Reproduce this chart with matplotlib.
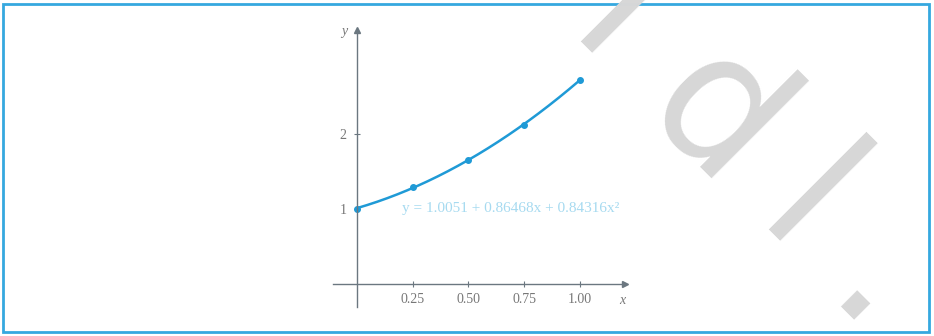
import numpy as np
import matplotlib
matplotlib.use('Agg')
import matplotlib.pyplot as plt
from matplotlib.patches import Rectangle

# data points and least squares fit coefficients (constant, x, x^2)
xs = [0.0, 0.25, 0.50, 0.75, 1.00]
ys = [1.0000, 1.2840, 1.6487, 2.1170, 2.7183]
coef = [1.0051, 0.86468, 0.84316]
xticks = [0.25, 0.50, 0.75, 1.00]
xticklabels = ['0.25', '0.50', '0.75', '1.00']
yticks = [1, 2]
yticklabels = ['1', '2']
equation = 'y = 1.0051 + 0.86468x + 0.84316x²'

blue = '#1f9ad6'
axc = '#6b7780'
txtc = '#777777'

plt.rcParams['font.family'] = ['Liberation Serif', 'DejaVu Serif']

fig = plt.figure(figsize=(9.34, 3.36), dpi=100)
ax = fig.add_axes([333/934, 1 - 307/336, 292/934, 277/336])
ax.set_xlim(-0.1076, 1.2018)
ax.set_ylim(-0.313, 3.38)

ax.spines['top'].set_visible(False)
ax.spines['right'].set_visible(False)
ax.spines['left'].set_position(('data', 0))
ax.spines['bottom'].set_position(('data', 0))
for s in ['left', 'bottom']:
    ax.spines[s].set_color(axc)
    ax.spines[s].set_linewidth(1.0)
ax.plot(1, 0, '>', color=axc, ms=5, transform=ax.get_yaxis_transform(), clip_on=False)
ax.plot(0, 1, '^', color=axc, ms=5, transform=ax.get_xaxis_transform(), clip_on=False)

ax.set_xticks(xticks)
ax.set_xticklabels(xticklabels)
ax.set_yticks(yticks)
ax.set_yticklabels(yticklabels)
ax.tick_params(direction='inout', length=5, width=0.8, color=axc,
               labelcolor=txtc, labelsize=10)
ax.tick_params(axis='x', pad=4)
ax.tick_params(axis='y', pad=5)

# fitted polynomial curve
xc = np.linspace(0, 1, 200)
yc = coef[0] + coef[1]*xc + coef[2]*xc**2
ax.plot(xc, yc, color=blue, lw=1.8, solid_capstyle='round')
ax.plot(xs, ys, 'o', color=blue, ms=4, clip_on=False)

ax.text(0.2, 1.0, equation, color='#a6daf0', fontsize=11, va='center', ha='left')
fig.text(344/934, 1 - 32/336, 'y', color=txtc, fontsize=10, style='italic',
         ha='center', va='center')
ax.text(1.19, -0.22, 'x', color=txtc, fontsize=10, style='italic',
        ha='center', va='center')

# frame
fig.patches.append(Rectangle((3/934, 4/336), 926/934, 328/336, transform=fig.transFigure,
                             fill=False, edgecolor='#35a8df', lw=2))

# watermark, one glyph at a time (baseline centre of each glyph)
wm = dict(rotation=-45, rotation_mode='anchor', ha='center', va='baseline',
          fontsize=130, color='#d7d7d7', family='DejaVu Sans', zorder=10)
fig.text(581/934, 1 - 59/336, 'l', **wm)
fig.text(680/934, 1 - 155/336, 'd', **wm)
fig.text(769/934, 1 - 247/336, 'l', **wm)
fig.text(841/934, 1 - 326/336, '.', **wm)

fig.savefig('out.png', dpi=100)
